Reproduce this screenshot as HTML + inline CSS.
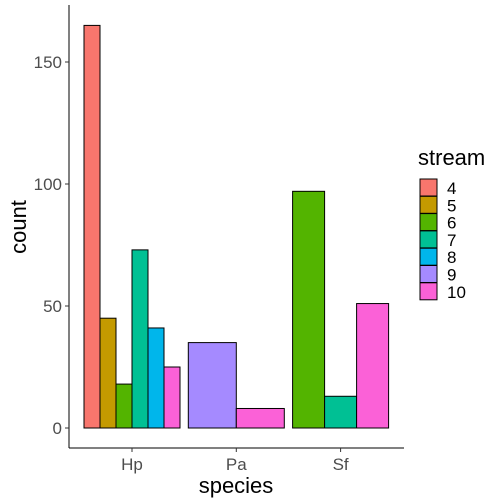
<!DOCTYPE html>
<html><head><meta charset="utf-8"><style>body{margin:0;background:#fff}svg{display:block;font-family:"Liberation Sans",sans-serif}</style></head>
<body>
<svg id="c" width="504" height="504"></svg>
<script>
const categories=["Hp","Pa","Sf"];
const streams=["4","5","6","7","8","9","10"];
const colors=["#F8766D","#C49A00","#53B400","#00C094","#00B6EB","#A58AFF","#FB61D7"];
const groupStreams=[["4","5","6","7","8","10"],["9","10"],["6","7","10"]];
const groupValues=[[165,45,18,73,41,25],[35,8],[97,13,51]];
const yTicks=[0,50,100,150];
const NS="http://www.w3.org/2000/svg";
const svg=document.getElementById('c');
function mk(t,a,p){const e=document.createElementNS(NS,t);for(const k in a)e.setAttribute(k,a[k]);(p||svg).appendChild(e);return e;}
const y=v=>428-v*2.44;
const xc=i=>132+i*104.3;
const gw=96;
let ax=mk('line',{x1:69,y1:5,x2:69,y2:448,stroke:'#000','stroke-width':1});

ax=mk('line',{x1:69,y1:448,x2:404,y2:448,stroke:'#000','stroke-width':1});

yTicks.forEach(t=>{
 const l=mk('line',{x1:65,x2:69,y1:y(t),y2:y(t),stroke:'#333'});
 
 const tx=mk('text',{x:62,y:y(t)+6,'text-anchor':'end','font-size':17,fill:'#4d4d4d'});
 tx.textContent=t;
});
categories.forEach((c,i)=>{
 const l=mk('line',{x1:xc(i),x2:xc(i),y1:448,y2:452,stroke:'#333'});
 
 const tx=mk('text',{x:xc(i),y:470,'text-anchor':'middle','font-size':17,fill:'#4d4d4d'});
 tx.textContent=c;
 const n=groupValues[i].length,w=gw/n,x0=xc(i)-gw/2;
 groupValues[i].forEach((v,j)=>{
  const r=mk('rect',{x:x0+j*w,y:y(v),width:w,height:y(0)-y(v),fill:colors[streams.indexOf(groupStreams[i][j])],stroke:'#000','stroke-width':1});
  
 });
});
let t=mk('text',{x:236,y:493,'text-anchor':'middle','font-size':22});
t.textContent='species';
t=mk('text',{x:0,y:0,'text-anchor':'middle','font-size':22,transform:'translate(26,227) rotate(-90)'});
t.textContent='count';
t=mk('text',{x:418,y:165,'font-size':22});
t.textContent='stream';
streams.forEach((s,k)=>{
 const r=mk('rect',{x:420,y:179+k*17.3,width:17,height:17,fill:colors[k],stroke:'#000'});
 
 const tx=mk('text',{x:447,y:194+k*17.3,'font-size':17});
 tx.textContent=s;
});
</script>
</body></html>
